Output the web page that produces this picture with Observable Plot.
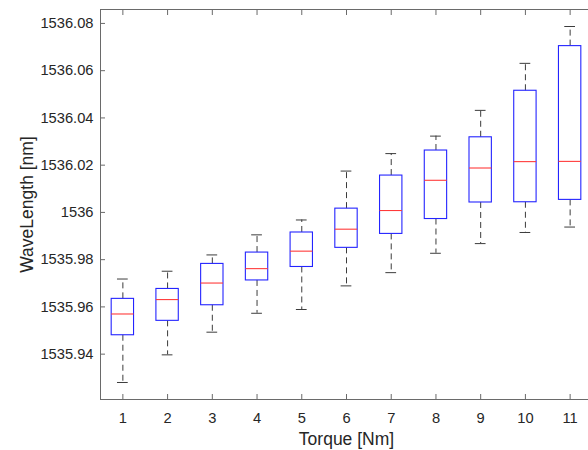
<!DOCTYPE html>
<html><head><meta charset="utf-8">
<script src="https://cdn.jsdelivr.net/npm/d3@7"></script>
<script src="https://cdn.jsdelivr.net/npm/@observablehq/plot@0.6"></script>
<style>
html,body{margin:0;padding:0;background:#fff;overflow:hidden;width:588px;height:450px}
#chart{width:600px;height:450px}
</style></head><body><div id="chart"></div>
<script>
const torque = [1, 2, 3, 4, 5, 6, 7, 8, 9, 10, 11];
const upperWhisker = [1535.9718, 1535.9751, 1535.9820, 1535.9905, 1535.9968, 1536.0175, 1536.0249, 1536.0323, 1536.0432, 1536.0631, 1536.0787];
const q3 =           [1535.9634, 1535.9676, 1535.9782, 1535.9830, 1535.9915, 1536.0016, 1536.0156, 1536.0262, 1536.0318, 1536.0515, 1536.0704];
const median =       [1535.9570, 1535.9631, 1535.9701, 1535.9762, 1535.9836, 1535.9929, 1536.0008, 1536.0136, 1536.0188, 1536.0215, 1536.0216];
const q1 =           [1535.9480, 1535.9541, 1535.9607, 1535.9712, 1535.9769, 1535.9850, 1535.9909, 1535.9972, 1536.0042, 1536.0043, 1536.0053];
const lowerWhisker = [1535.9280, 1535.9397, 1535.9493, 1535.9573, 1535.9589, 1535.9689, 1535.9745, 1535.9827, 1535.9868, 1535.9915, 1535.9938];
const yTicks = [1535.94, 1535.96, 1535.98, 1536, 1536.02, 1536.04, 1536.06, 1536.08];
const xTicks = torque;
const xLabel = "Torque [Nm]";
const yLabel = "WaveLength [nm]";

const data = torque.map((t, i) => ({t, uw: upperWhisker[i], q3: q3[i], med: median[i], q1: q1[i], lw: lowerWhisker[i]}));
const boxHalf = 0.25, capHalf = 0.12;
const axisColor = "#6a6a6a";
const textColor = "#262626";
const whiskerColor = "#3c3c3c";
const font = "'Liberation Sans', Arial, sans-serif";

const plot = Plot.plot({
  width: 600, height: 450,
  marginLeft: 100, marginRight: 8, marginTop: 9, marginBottom: 51,
  style: {fontFamily: font, fontSize: "14.7px", color: textColor, background: "white", overflow: "visible"},
  x: {domain: [0.5, 11.5], label: null},
  y: {domain: [1535.9208, 1536.0859], label: null},
  marks: [
    Plot.ruleX(data, {x: "t", y1: "q3", y2: "uw", stroke: whiskerColor, strokeDasharray: "6,4"}),
    Plot.ruleX(data, {x: "t", y1: "q1", y2: "lw", stroke: whiskerColor, strokeDasharray: "6,4"}),
    Plot.ruleY(data, {y: "uw", x1: d => d.t - capHalf, x2: d => d.t + capHalf, stroke: whiskerColor}),
    Plot.ruleY(data, {y: "lw", x1: d => d.t - capHalf, x2: d => d.t + capHalf, stroke: whiskerColor}),
    Plot.rect(data, {x1: d => d.t - boxHalf, x2: d => d.t + boxHalf, y1: "q1", y2: "q3", fill: "none", stroke: "#2424ff", strokeWidth: 1.1}),
    Plot.ruleY(data, {y: "med", x1: d => d.t - boxHalf, x2: d => d.t + boxHalf, stroke: "#ff3a3a", strokeWidth: 1.1}),
    Plot.frame({stroke: axisColor}),
    Plot.axisX({anchor: "bottom", ticks: xTicks, tickSize: -5, tickFormat: () => "", stroke: axisColor, label: null}),
    Plot.axisX({anchor: "top", ticks: xTicks, tickSize: -5, tickFormat: () => "", stroke: axisColor, label: null}),
    Plot.axisY({anchor: "left", ticks: yTicks, tickSize: -5, tickFormat: () => "", stroke: axisColor, label: null}),
    Plot.axisY({anchor: "right", ticks: yTicks, tickSize: -5, tickFormat: () => "", stroke: axisColor, label: null}),
    Plot.axisX({anchor: "bottom", ticks: xTicks, tickSize: 0, tickPadding: 13, tickFormat: d => String(d), fill: textColor, fontSize: 14.7, label: null}),
    Plot.axisY({anchor: "left", ticks: yTicks, tickSize: 0, tickPadding: 7, tickFormat: d => String(+d.toFixed(2)), fill: textColor, fontSize: 14.7, label: null}),
    Plot.text([xLabel], {frameAnchor: "bottom", dy: 45.5, lineAnchor: "bottom", textAnchor: "middle", text: d => d, fontSize: 17.5, fill: textColor}),
    Plot.text([yLabel], {frameAnchor: "left", dx: -68, rotate: -90, lineAnchor: "bottom", textAnchor: "middle", text: d => d, fontSize: 17.5, fill: textColor})
  ]
});
document.getElementById("chart").appendChild(plot);
</script>
</body></html>
